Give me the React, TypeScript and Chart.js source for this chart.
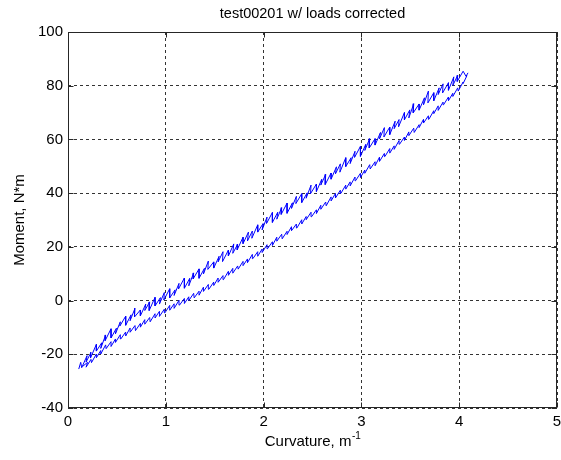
import React, { useEffect, useRef } from "react";
import { Chart, registerables } from "chart.js";

Chart.register(...registerables);

const chartTitle = "test00201 w/ loads corrected";
const xAxisLabel = "Curvature, m";
const xAxisExponent = "-1";
const yAxisLabel = "Moment, N*m";
const xTicks = [0, 1, 2, 3, 4, 5];
const yTicks = [-40, -20, 0, 20, 40, 60, 80, 100];

// [curvature, moment] — loading branch (upper trace)
const loadingBranch: [number, number][] = [
  [0.11, -25.5], [0.13, -23], [0.14, -25], [0.195, -20.5], [0.185, -22.9], [0.235, -19.3],
  [0.23, -21.4], [0.29, -16.3], [0.29, -18.8], [0.345, -15.7], [0.335, -17.8], [0.385, -12.8],
  [0.38, -14.9], [0.44, -10.5], [0.44, -13.9], [0.495, -10.3], [0.485, -12.4], [0.535, -7.9],
  [0.53, -9.5], [0.59, -5.8], [0.59, -9.2], [0.645, -5.3], [0.635, -7.5], [0.685, -2.9],
  [0.68, -6.1], [0.74, -3.5], [0.74, -5.7], [0.795, -1.3], [0.785, -3.7], [0.835, -0.5],
  [0.83, -3.7], [0.89, 1.2], [0.89, -2], [0.945, 1.1], [0.935, -1.3], [0.985, 3],
  [0.98, 0.2], [1.04, 4.4], [1.04, 1], [1.095, 4], [1.085, 1.9], [1.135, 6.4],
  [1.13, 4.3], [1.19, 8.4], [1.19, 4.6], [1.245, 8.3], [1.235, 5.5], [1.285, 10.3],
  [1.28, 8.1], [1.34, 11.8], [1.34, 8.3], [1.395, 12], [1.385, 9.9], [1.435, 14.7],
  [1.43, 11.6], [1.49, 14.4], [1.49, 12.1], [1.545, 16.5], [1.535, 14.4], [1.585, 18.2],
  [1.58, 14.5], [1.64, 18.8], [1.64, 16.6], [1.695, 21.1], [1.685, 17.6], [1.735, 21],
  [1.73, 18.9], [1.79, 23.6], [1.79, 21.2], [1.845, 25.5], [1.835, 22.2], [1.885, 25.9],
  [1.88, 23.2], [1.94, 28.2], [1.94, 25.5], [1.995, 28.7], [1.985, 26.3], [2.035, 31.1],
  [2.03, 28.7], [2.09, 32.8], [2.09, 29.1], [2.145, 32.9], [2.135, 30.3], [2.185, 34.6],
  [2.18, 32.1], [2.24, 36.3], [2.24, 32.5], [2.295, 36.4], [2.285, 34.3], [2.335, 38.8],
  [2.33, 36.1], [2.39, 39.8], [2.39, 36.5], [2.445, 40.1], [2.435, 38.1], [2.485, 43],
  [2.48, 39.8], [2.54, 43.4], [2.54, 40.6], [2.595, 45.2], [2.585, 43], [2.635, 47],
  [2.63, 43.2], [2.69, 47.5], [2.69, 45.2], [2.745, 49.8], [2.735, 47.2], [2.785, 50.9],
  [2.78, 47.8], [2.84, 53.2], [2.84, 49.9], [2.895, 53.2], [2.885, 51], [2.935, 55.6],
  [2.93, 53.3], [2.99, 57.4], [2.99, 53.7], [3.045, 58.2], [3.035, 55.9], [3.085, 60.3],
  [3.08, 56.8], [3.14, 60.3], [3.14, 57.9], [3.195, 62.6], [3.185, 60.2], [3.235, 64.4],
  [3.23, 60.9], [3.29, 64.6], [3.29, 61.8], [3.345, 66.8], [3.335, 64], [3.385, 67.4],
  [3.38, 64.7], [3.44, 70], [3.44, 67.3], [3.495, 71], [3.485, 68], [3.535, 73.3],
  [3.53, 69.9], [3.59, 73.2], [3.59, 70.9], [3.645, 75.5], [3.635, 72.9], [3.685, 78],
  [3.68, 73.6], [3.74, 77.4], [3.74, 74.4], [3.795, 79.2], [3.785, 76.7], [3.835, 80.7],
  [3.83, 77.3], [3.89, 81.1], [3.89, 78.3], [3.945, 83.3], [3.935, 80.1], [3.985, 83.9],
  [3.98, 81.6], [4.04, 85.4], [4.07, 83.5], [4.09, 84.8],
];

// [curvature, moment] — unloading branch (lower trace)
const unloadingBranch: [number, number][] = [
  [4.08, 83.8], [4.04, 80.8], [4.04, 81.4], [3.99, 78], [3.985, 79.2], [3.935, 76],
  [3.935, 77.2], [3.89, 74.4], [3.89, 75.8], [3.84, 72.9], [3.835, 73.9], [3.785, 70.8],
  [3.785, 72.5], [3.74, 69.6], [3.74, 70.7], [3.69, 67.5], [3.685, 68.8], [3.635, 66.1],
  [3.635, 67.5], [3.59, 64.4], [3.59, 65.5], [3.54, 62.6], [3.535, 64.2], [3.485, 61.4],
  [3.485, 62.8], [3.44, 59.6], [3.44, 60.9], [3.39, 58.2], [3.385, 59.6], [3.335, 56.3],
  [3.335, 57.6], [3.29, 54.9], [3.29, 56.6], [3.24, 53.6], [3.235, 54.8], [3.185, 51.8],
  [3.185, 53.4], [3.14, 50.2], [3.14, 51.7], [3.09, 49], [3.085, 50.6], [3.035, 47.4],
  [3.035, 48.6], [2.99, 45.8], [2.99, 47.4], [2.94, 44.6], [2.935, 46], [2.885, 42.7],
  [2.885, 44.2], [2.84, 41.5], [2.84, 43], [2.79, 39.9], [2.785, 41.1], [2.735, 38.2],
  [2.735, 39.9], [2.69, 37.1], [2.69, 38.6], [2.64, 35.3], [2.635, 36.7], [2.585, 34],
  [2.585, 35.5], [2.54, 32.4], [2.54, 33.8], [2.49, 31.2], [2.485, 32.9], [2.435, 30.1],
  [2.435, 31.3], [2.39, 28.5], [2.39, 30.1], [2.34, 27], [2.335, 28.5], [2.285, 26],
  [2.285, 27.5], [2.24, 24.6], [2.24, 25.8], [2.19, 23], [2.185, 24.7], [2.135, 22.1],
  [2.135, 23.6], [2.09, 20.5], [2.09, 21.9], [2.04, 19.3], [2.035, 20.8], [1.985, 17.9],
  [1.985, 19.2], [1.94, 16.5], [1.94, 18.2], [1.89, 15.6], [1.885, 17.2], [1.835, 14.1],
  [1.835, 15.5], [1.79, 13], [1.79, 14.6], [1.74, 11.7], [1.735, 12.9], [1.685, 10.2],
  [1.685, 12], [1.64, 9.4], [1.64, 10.9], [1.59, 7.8], [1.585, 9.3], [1.535, 6.8],
  [1.535, 8.4], [1.49, 5.6], [1.49, 6.9], [1.44, 4.2], [1.435, 6], [1.385, 3.4],
  [1.385, 5], [1.34, 2], [1.34, 3.5], [1.29, 1], [1.285, 2.7], [1.235, 0],
  [1.235, 1.4], [1.19, -1.1], [1.19, 0.8], [1.14, -1.7], [1.135, 0.1], [1.085, -2.9],
  [1.085, -1.2], [1.04, -3.6], [1.04, -1.8], [0.99, -4.6], [0.985, -3.2], [0.935, -5.9],
  [0.935, -4], [0.89, -6.5], [0.89, -4.9], [0.84, -7.9], [0.835, -6.3], [0.785, -8.8],
  [0.785, -7.1], [0.74, -9.9], [0.74, -8.5], [0.69, -11.2], [0.685, -9.3], [0.635, -11.8],
  [0.635, -10.2], [0.59, -13.2], [0.59, -11.7], [0.54, -14.3], [0.535, -12.7], [0.485, -15.6],
  [0.485, -14.3], [0.44, -17.1], [0.44, -15.3], [0.39, -17.9], [0.385, -16.5], [0.335, -19.9],
  [0.335, -18.6], [0.29, -21.3], [0.29, -19.9], [0.24, -23.1], [0.235, -21.9], [0.185, -24.8],
  [0.2, -23], [0.15, -24.5],
];

const FONT = "'Liberation Sans', Arial, Helvetica, sans-serif";

const matlabDecor = {
  id: "matlabDecor",
  afterDraw(chart: any) {
    const { ctx, chartArea: a, scales } = chart;
    const L = Math.round(a.left) + 0.5;
    const R = Math.round(a.right) - 0.5;
    const T = Math.round(a.top) + 0.5;
    const B = Math.round(a.bottom) - 0.5;
    ctx.save();
    ctx.strokeStyle = "#262626";
    ctx.lineWidth = 1;
    ctx.setLineDash([]);
    ctx.strokeRect(L, T, R - L, B - T);
    ctx.beginPath();
    for (const v of xTicks) {
      const px = Math.round(scales.x.getPixelForValue(v)) + 0.5;
      ctx.moveTo(px, B);
      ctx.lineTo(px, B - 5);
      ctx.moveTo(px, T);
      ctx.lineTo(px, T + 5);
    }
    for (const v of yTicks) {
      const py = Math.round(scales.y.getPixelForValue(v)) + 0.5;
      ctx.moveTo(L, py);
      ctx.lineTo(L + 5, py);
      ctx.moveTo(R, py);
      ctx.lineTo(R - 5, py);
    }
    ctx.stroke();

    ctx.fillStyle = "#000";
    const cx = (a.left + a.right) / 2;
    ctx.font = `14.5px ${FONT}`;
    ctx.textAlign = "center";
    ctx.textBaseline = "middle";
    ctx.fillText(chartTitle, cx, 14);

    ctx.font = `15px ${FONT}`;
    const w1 = ctx.measureText(xAxisLabel).width;
    ctx.font = `10px ${FONT}`;
    const w2 = ctx.measureText(xAxisExponent).width;
    const start = cx - (w1 + w2) / 2;
    ctx.textAlign = "left";
    ctx.font = `15px ${FONT}`;
    ctx.fillText(xAxisLabel, start, 442);
    ctx.font = `10px ${FONT}`;
    ctx.fillText(xAxisExponent, start + w1 + 0.5, 436);

    ctx.font = `15px ${FONT}`;
    ctx.textAlign = "center";
    ctx.translate(20, (a.top + a.bottom) / 2);
    ctx.rotate(-Math.PI / 2);
    ctx.fillText(yAxisLabel, 0, 0);
    ctx.restore();
  },
};

export default function App() {
  const ref = useRef<HTMLCanvasElement>(null);
  useEffect(() => {
    if (!ref.current) return;
    const toPts = (arr: [number, number][]) => arr.map(([x, y]) => ({ x, y }));
    const chart = new Chart(ref.current, {
      type: "scatter",
      data: {
        datasets: [
          {
            label: "loading",
            data: toPts(loadingBranch),
            showLine: true,
            borderColor: "#0000ff",
            borderWidth: 1,
            pointRadius: 0,
            tension: 0,
          },
          {
            label: "unloading",
            data: toPts(unloadingBranch),
            showLine: true,
            borderColor: "#0000ff",
            borderWidth: 1,
            pointRadius: 0,
            tension: 0,
          },
        ],
      },
      options: {
        animation: false,
        responsive: false,
        devicePixelRatio: 1,
        layout: { padding: { top: 32, right: 4, left: 0, bottom: 0 } },
        plugins: {
          legend: { display: false },
          title: { display: false },
          tooltip: { enabled: false },
        },
        scales: {
          x: {
            type: "linear",
            min: 0,
            max: 5,
            afterBuildTicks: (s: any) => {
              s.ticks = xTicks.map((v) => ({ value: v }));
            },
            afterFit: (s: any) => {
              s.height = 52;
              s.paddingLeft = 0;
              s.paddingRight = 0;
            },
            ticks: {
              color: "#000",
              font: { family: FONT, size: 15 },
              padding: 5,
              maxRotation: 0,
              autoSkip: false,
            },
            grid: { color: "#333", lineWidth: 1, drawTicks: false },
            border: { display: false, dash: [3, 3] },
          },
          y: {
            type: "linear",
            min: -40,
            max: 100,
            afterBuildTicks: (s: any) => {
              s.ticks = yTicks.map((v) => ({ value: v }));
            },
            afterFit: (s: any) => {
              s.width = 68;
              s.paddingTop = 0;
              s.paddingBottom = 0;
            },
            ticks: {
              color: "#000",
              font: { family: FONT, size: 15 },
              padding: 5,
              autoSkip: false,
            },
            grid: { color: "#333", lineWidth: 1, drawTicks: false },
            border: { display: false, dash: [3, 3] },
          },
        },
      },
      plugins: [matlabDecor],
    });
    return () => chart.destroy();
  }, []);
  return (
    <div style={{ position: "fixed", left: 0, top: 0, width: 561, height: 460, background: "#fff" }}>
      <canvas ref={ref} width={561} height={460} style={{ display: "block" }} />
    </div>
  );
}
